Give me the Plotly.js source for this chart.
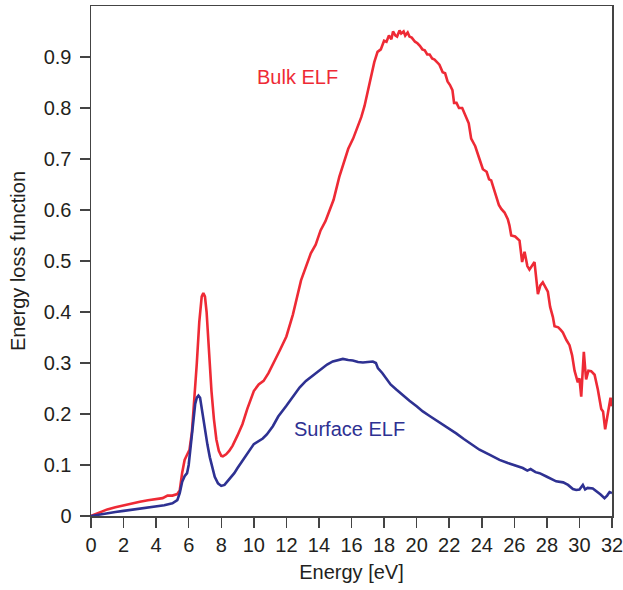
<!DOCTYPE html>
<html>
<head>
<meta charset="utf-8">
<script src="https://cdn.plot.ly/plotly-3.0.1.min.js"></script>
<style>html,body{margin:0;padding:0;background:#fff}#chart{width:623px;height:590px}</style>
</head>
<body>
<div id="chart"></div>
<script>
const bulkEnergy = [0,0.5,1,1.5,2,2.5,3,3.5,4,4.4,4.7,5.0,5.3,5.45,5.6,5.75,5.9,6.05,6.2,6.35,6.5,6.65,6.8,6.9,7.0,7.1,7.25,7.4,7.55,7.7,7.85,8.0,8.1,8.3,8.5,8.7,9.0,9.3,9.6,10.0,10.3,10.6,10.9,11.2,11.6,12.0,12.4,12.9,13.2,13.5,13.8,14.1,14.4,14.65,14.9,15.25,15.5,15.8,16.1,16.4,16.6,16.8,17.1,17.4,17.6,17.8,18.0,18.15,18.3,18.45,18.55,18.7,18.8,18.95,19.05,19.2,19.3,19.45,19.56,19.7,19.9,20.05,20.2,20.35,20.5,20.65,20.8,20.95,21.1,21.25,21.4,21.6,21.75,21.9,22.05,22.2,22.3,22.45,22.6,22.8,23.05,23.2,23.35,23.6,23.86,24.07,24.3,24.45,24.58,24.75,24.89,25.05,25.2,25.4,25.6,25.7,25.81,26.05,26.32,26.4,26.48,26.63,26.8,26.93,27.1,27.24,27.45,27.6,27.75,27.9,28.06,28.2,28.37,28.47,28.7,28.85,28.98,29.2,29.39,29.55,29.7,29.9,30.0,30.11,30.2,30.27,30.35,30.41,30.55,30.72,30.93,31.13,31.34,31.45,31.58,31.75,31.91,32.0];
const bulkELF = [0,0.007,0.013,0.017,0.021,0.025,0.028,0.031,0.033,0.035,0.040,0.040,0.043,0.05,0.085,0.11,0.12,0.13,0.165,0.23,0.30,0.38,0.43,0.437,0.43,0.40,0.32,0.245,0.19,0.15,0.128,0.118,0.117,0.121,0.128,0.138,0.158,0.18,0.21,0.245,0.258,0.265,0.28,0.298,0.325,0.352,0.395,0.462,0.49,0.515,0.532,0.56,0.578,0.601,0.62,0.665,0.688,0.72,0.74,0.765,0.782,0.804,0.845,0.89,0.91,0.915,0.932,0.93,0.942,0.935,0.95,0.942,0.94,0.952,0.946,0.95,0.942,0.948,0.94,0.938,0.93,0.927,0.922,0.915,0.913,0.905,0.905,0.897,0.895,0.89,0.885,0.87,0.868,0.852,0.845,0.835,0.81,0.81,0.8,0.8,0.782,0.77,0.74,0.725,0.70,0.68,0.675,0.66,0.658,0.64,0.622,0.61,0.602,0.595,0.582,0.57,0.55,0.548,0.54,0.52,0.498,0.518,0.49,0.483,0.49,0.498,0.435,0.452,0.458,0.45,0.44,0.41,0.39,0.372,0.37,0.365,0.36,0.345,0.335,0.315,0.285,0.262,0.27,0.234,0.28,0.322,0.29,0.268,0.285,0.284,0.277,0.248,0.21,0.205,0.17,0.2,0.232,0.215];

const surfEnergy = [0,0.5,1,1.5,2,2.5,3,3.5,4,4.5,5.0,5.3,5.45,5.6,5.75,5.9,6.0,6.1,6.2,6.3,6.4,6.5,6.6,6.7,6.8,6.9,7.0,7.15,7.3,7.45,7.6,7.8,8.0,8.2,8.5,8.8,9.0,9.5,10.0,10.55,10.8,11.17,11.5,12.0,12.4,12.81,13.2,13.52,13.8,14.14,14.5,14.85,15.2,15.47,15.8,16.08,16.4,16.7,17.0,17.31,17.5,17.62,17.9,18.13,18.4,18.75,19.1,19.56,20.0,20.38,20.8,21.2,21.6,22.02,22.43,22.9,23.4,23.86,24.5,25.09,25.6,26.1,26.52,26.8,27.0,27.3,27.55,28.0,28.3,28.57,29.0,29.3,29.6,29.8,30.0,30.21,30.35,30.5,30.82,31.1,31.3,31.54,31.7,31.85,32.0];
const surfELF = [0,0.003,0.006,0.008,0.010,0.012,0.014,0.016,0.018,0.021,0.025,0.031,0.045,0.067,0.078,0.084,0.1,0.13,0.165,0.195,0.22,0.232,0.236,0.232,0.21,0.19,0.168,0.14,0.115,0.093,0.077,0.064,0.059,0.061,0.072,0.084,0.094,0.118,0.141,0.152,0.16,0.176,0.195,0.216,0.235,0.252,0.265,0.273,0.279,0.288,0.297,0.303,0.305,0.308,0.306,0.305,0.302,0.301,0.302,0.303,0.3,0.29,0.28,0.27,0.258,0.248,0.238,0.226,0.215,0.205,0.196,0.188,0.179,0.17,0.162,0.151,0.14,0.13,0.12,0.11,0.104,0.098,0.094,0.089,0.092,0.086,0.084,0.077,0.072,0.068,0.066,0.061,0.053,0.051,0.052,0.061,0.052,0.055,0.054,0.048,0.042,0.035,0.04,0.047,0.045];

const xTicks = [0,2,4,6,8,10,12,14,16,18,20,22,24,26,28,30,32];
const yTicks = [0,0.1,0.2,0.3,0.4,0.5,0.6,0.7,0.8,0.9];
const yTickText = ['0','0.1','0.2','0.3','0.4','0.5','0.6','0.7','0.8','0.9'];
const labels = ['Bulk ELF','Surface ELF'];

const RED = '#ee2a35';
const BLUE = '#2e3192';
const INK = '#231f20';
const FONT = 'Liberation Sans, Arial, sans-serif';

const data = [
  {x: bulkEnergy, y: bulkELF, type: 'scatter', mode: 'lines', line: {color: RED, width: 2.6}, hoverinfo: 'skip'},
  {x: surfEnergy, y: surfELF, type: 'scatter', mode: 'lines', line: {color: BLUE, width: 2.6}, hoverinfo: 'skip'}
];

const layout = {
  width: 623, height: 590,
  margin: {l: 91, r: 10.5, t: 6, b: 74},
  paper_bgcolor: '#ffffff', plot_bgcolor: '#ffffff',
  showlegend: false,
  font: {family: FONT, color: INK, size: 20},
  xaxis: {
    range: [0, 32], tickvals: xTicks, ticktext: xTicks.map(String),
    ticks: 'outside', ticklen: 10, tickwidth: 1.5, tickcolor: '#444',
    showline: true, linecolor: '#444', linewidth: 1.5, mirror: true,
    showgrid: false, zeroline: false, ticklabeloverflow: 'allow',
    tickfont: {size: 20, color: INK},
    title: {text: 'Energy [eV]', font: {size: 20, color: INK}, standoff: 10}
  },
  yaxis: {
    range: [0, 1.0], tickvals: yTicks, ticktext: yTickText,
    ticks: 'outside', ticklen: 10, tickwidth: 1.5, tickcolor: '#444',
    showline: true, linecolor: '#444', linewidth: 1.5, mirror: true,
    showgrid: false, zeroline: false, ticklabelstandoff: 4, ticklabeloverflow: 'allow',
    tickfont: {size: 20, color: INK},
    title: {text: 'Energy loss function', font: {size: 20, color: INK}, standoff: 12}
  },
  annotations: [
    {x: 12.68, y: 0.86, xref: 'x', yref: 'y', text: labels[0], showarrow: false, font: {size: 20, color: RED, family: FONT}},
    {x: 15.88, y: 0.171, xref: 'x', yref: 'y', text: labels[1], showarrow: false, font: {size: 20, color: BLUE, family: FONT}}
  ]
};

Plotly.newPlot('chart', data, layout, {displayModeBar: false, staticPlot: true});
</script>
</body>
</html>
